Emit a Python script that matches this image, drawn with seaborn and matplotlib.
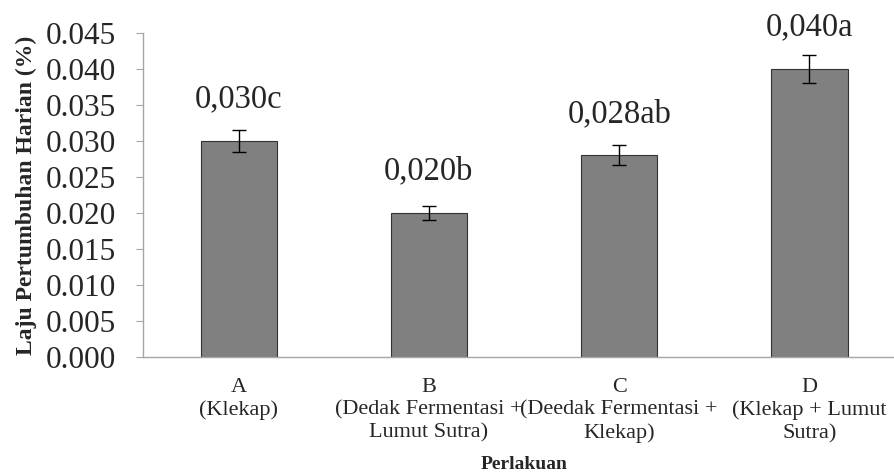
import numpy as np
import pandas as pd
import seaborn as sns
import matplotlib
matplotlib.use("Agg")
import matplotlib.pyplot as plt

# data
treatments = ["A", "B", "C", "D"]
tick_labels = [
    "A\n(Klekap)",
    "B\n(Dedak Fermentasi +\nLumut Sutra)",
    "C\n(Deedak Fermentasi +\nKlekap)",
    "D\n(Klekap + Lumut\nSutra)",
]
growth_rate = [0.030, 0.020, 0.028, 0.040]
std_err = [0.0015, 0.001, 0.0014, 0.002]
bar_labels = ["0,030c", "0,020b", "0,028ab", "0,040a"]

df = pd.DataFrame({"Perlakuan": treatments, "Laju": growth_rate})

sns.set_style("white")
plt.rcParams["font.family"] = ["Liberation Serif", "DejaVu Serif"]

fig = plt.figure(figsize=(8.94, 4.76), dpi=100)
ax = fig.add_axes([0.1605, 0.25, 0.8514, 0.6807])

sns.barplot(data=df, x="Perlakuan", y="Laju", color="#808080", width=0.4,
            edgecolor="#333333", linewidth=0.8, saturation=1, errorbar=None, ax=ax)
ax.errorbar(np.arange(len(treatments)), growth_rate, yerr=std_err, fmt="none",
            ecolor="black", elinewidth=1, capsize=5, capthick=1)

for i, (v, lab) in enumerate(zip(growth_rate, bar_labels)):
    ax.annotate(lab, (i, v), xytext=(0, 24), textcoords="offset points",
                ha="center", va="baseline", fontsize=23.5)

ax.set_xlim(-0.5, 3.5)
ax.set_ylim(0, 0.045)
ax.set_yticks(np.arange(0, 0.0451, 0.005))
ax.set_yticklabels([f"{t:.3f}" for t in np.arange(0, 0.0451, 0.005)], fontsize=22.5)
ax.set_xticks(range(4))
ax.set_xticklabels(tick_labels, fontsize=16, linespacing=1.25)
ax.set_xticks([0.5, 1.5, 2.5], minor=True)
ax.tick_params(axis="x", which="major", length=0, pad=15)
ax.tick_params(axis="x", which="minor", length=5, color="#a6a6a6", direction="out")
ax.tick_params(axis="y", length=5, color="#a6a6a6", direction="out", pad=15, left=True)

for s in ["top", "right"]:
    ax.spines[s].set_visible(False)
for s in ["left", "bottom"]:
    ax.spines[s].set_color("#a6a6a6")
    ax.spines[s].set_linewidth(1)

ax.set_ylabel("Laju Pertumbuhan Harian (%)", fontsize=17, fontweight="bold", labelpad=6)
ax.set_xlabel("Perlakuan", fontsize=14, fontweight="bold", labelpad=9)

fig.savefig("out.png", dpi=100)
